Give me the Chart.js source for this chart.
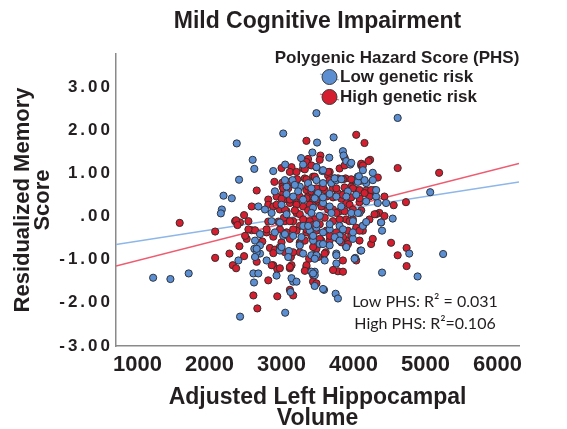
<!DOCTYPE html>
<html><head><meta charset="utf-8">
<script src="https://cdn.jsdelivr.net/npm/chart.js@4.4.0/dist/chart.umd.min.js"></script>
<style>html,body{margin:0;padding:0;background:#fff;}canvas{display:block;}</style>
</head><body>
<canvas id="c" width="567" height="429"></canvas>
<script>
const chartTitle = 'Mild Cognitive Impairment';
const legendTitle = 'Polygenic Hazard Score (PHS)';
const seriesNames = ['Low genetic risk', 'High genetic risk'];
const xAxisTitle = ['Adjusted Left Hippocampal', 'Volume'];
const yAxisTitle = ['Residualized Memory', 'Score'];
const xTickValues = [1000, 2000, 3000, 4000, 5000, 6000];
const xTickLabels = ['1000', '2000', '3000', '4000', '5000', '6000'];
const yTickValues = [-3, -2, -1, 0, 1, 2, 3];
const yTickLabels = ['-3.00', '-2.00', '-1.00', '.00', '1.00', '2.00', '3.00'];
const r2Labels = ['Low PHS: R\u00B2 = 0.031', 'High PHS: R\u00B2=0.106'];

// Low genetic risk (blue)
const lowX = [3485,4614,3024,2378,3494,3724,2599,2622,3272,3429,3664,3853,3862,3899,3955,2885,3051,2410,4268,3300,3567,
  3070,3153,3254,3369,3485,3577,3692,3761,4061,4061,4176,2908,3070,3231,3415,3508,3669,3761,3922,4038,4314,4453,4337,4176,4084,3969,3830,3669,3577,3438,3300,3162,3000,2862,2770,2678,
  2194,2309,2171,2157,5066,
  2632,2701,2862,2908,3024,3162,3277,3392,3669,3807,3992,4130,4176,3992,3807,3669,3531,3254,3102,2977,3300,3415,3485,3600,3761,4024,4098,4397,4397,4545,4775,5246,4891,1216,1456,1710,2401,2622,2701,2609,2618,2424,3051,2931,3125,3162,3461,3461,3591,3752,3784,2655,2793,
  3462,3577,3900,3416,3531,3693,4061,3670,3854,3485,3577,3992,4384,3439,3577,3739,3808,3900,4108,4015,3762,3416,3462,3577,3762,
  3070,2978,3301,3370,3485,2701,3047,3439,2655,3001,3093,2632,3462,2678,3139,3208,3439,
  3485,3185,3047,3969,4154,4075,4131,3577,3739,3831,4269,4315];
const lowY = [2.39,2.28,1.92,1.69,1.71,1.83,1.31,1.10,1.35,1.48,1.36,1.51,1.41,1.28,1.20,1.05,1.20,0.85,1.01,1.20,1.05,
  0.69,0.84,0.69,0.77,0.84,0.77,0.77,0.84,0.92,0.80,0.77,0.58,0.52,0.58,0.65,0.54,0.52,0.46,0.58,0.50,0.46,0.31,0.31,0.35,0.08,0.08,0.23,0.23,0.31,0.20,0.39,0.46,0.27,0.08,0.16,0.23,
  0.48,0.42,0.16,0.07,0.56,
  -0.56,-0.67,-0.11,-0.37,-0.45,-0.45,-0.48,-0.33,-0.30,-0.22,-0.11,-0.22,-0.13,-0.52,-0.45,-0.67,-0.64,-0.67,-0.80,-0.79,-0.86,-0.90,-0.90,-1.02,-0.86,-0.96,-0.79,-0.33,-1.30,-0.05,-0.86,-0.87,-1.39,-1.42,-1.45,-1.32,-1.02,-0.75,-0.86,-1.32,-1.53,-2.32,-2.23,-1.37,-1.75,-1.51,-1.28,-1.61,-1.70,-1.79,-1.90,-0.83,-1.02,
  0.42,0.44,0.46,0.08,0.01,0.08,0.08,-0.18,-0.30,-0.26,-0.37,-0.37,-0.14,-0.56,-0.64,-0.48,-0.56,-0.71,-0.79,-0.98,-0.90,-1.28,-1.36,-1.68,-1.09,
  0.05,-0.14,-0.22,-0.22,-0.18,-0.41,-0.41,-0.45,-0.75,-0.71,-0.94,-0.94,-0.98,-1.32,-1.43,-1.51,-1.32,
  1.14,0.73,0.84,1.24,0.84,0.93,1.07,1.07,0.88,0.86,0.84,0.61];

// High genetic risk (red)
const highX = [4038,4153,3346,3369,3346,3540,4231,4208,4614,5190,3000,3139,3300,3485,3669,3807,4107,
  3010,3014,3208,3323,3438,3646,3738,3890,3992,4107,2655,2816,2816,2931,3024,3024,3116,3208,3254,3346,3369,3438,3531,3600,3715,3784,3876,3969,4038,4176,4291,4245,4084,3899,3531,3415,3300,2977,3070,2885,2586,2480,3208,3254,3715,3807,3946,4559,4729,4360,4314,
  1585,2078,2355,2424,2586,2632,2516,2733,2793,3047,3162,3254,3346,3438,3531,3715,3899,3992,4222,4383,3070,3208,3346,3485,3623,3761,3922,4038,4130,3000,3116,3254,3323,3438,3554,3669,3784,3922,4084,4245,4268,4522,4738,4614,2078,2277,2323,2369,2415,2480,2839,2908,2977,3130,3254,3383,3485,3614,3853,3899,4738,2885,2941,2977,3116,3139,3346,3438,3784,2609,2664,2941,3162,
  3716,3831,3969,4085,4223,3430,3554,3647,3762,3877,3992,4108,3462,3600,3808,3946,4038,4131,4292,4430,3416,3531,3670,3854,3969,4085,3439,3600,3831,3923,4038,3716,3854,
  3001,3116,3208,3347,3393,3485,2932,3047,3185,3370,2369,2388,2540,2816,2955,3033,3116,3301,3393,3439,2793,2978,2540,2494,2886,3162,3347,3254,2886,3047,3162,3439,3508,2655,2863,2816,3116,3347,3324,3439,3485,3116,
  3116,3208,3324,3462,3218,3347,2901,3024,3093,3116,3370,3416,3485,
  3531,3877,3877,4108,4131,3416,3647,3785,3462,3854,3969,3670,4338,3577,3762,3877,3992,4085,4246,3485,3624,3854,4154,4430];
const highY = [1.89,1.70,1.75,1.33,1.26,1.41,1.31,1.28,1.12,1.01,1.12,1.14,1.11,1.14,1.03,1.11,1.18,
  0.78,0.69,0.84,0.88,0.92,0.95,0.88,0.88,0.84,0.83,0.60,0.39,0.27,0.46,0.54,0.39,0.31,0.31,0.46,0.61,0.46,0.54,0.65,0.61,0.65,0.54,0.46,0.69,0.61,0.60,0.61,0.50,0.33,0.31,0.31,0.31,0.23,0.16,0.12,0.23,0.23,0.03,0.08,0.05,0.16,0.12,0.27,0.26,0.33,0.08,0.05,
  -0.15,-0.35,-0.11,-0.14,-0.32,-0.32,-0.52,-0.58,-0.37,-0.11,-0.11,-0.22,-0.14,-0.11,-0.18,-0.11,-0.07,-0.07,-0.07,-0.14,-0.37,-0.33,-0.37,-0.33,-0.33,-0.37,-0.33,-0.30,-0.33,-0.60,-0.52,-0.60,-0.56,-0.52,-0.56,-0.56,-0.52,-0.56,-0.56,-0.64,-0.52,-0.61,-0.73,-0.90,-0.96,-0.86,-1.13,-1.20,-0.69,-0.92,-0.73,-0.77,-0.71,-0.94,-0.83,-0.98,-0.75,-0.83,-1.02,-0.71,-1.15,-1.13,-1.22,-1.20,-1.20,-1.13,-1.17,-1.51,-1.27,-1.83,-2.13,-1.85,-1.83,
  0.44,0.41,0.44,0.42,0.46,0.27,0.23,0.16,0.08,0.12,0.16,0.14,-0.07,-0.03,-0.07,-0.11,-0.26,-0.22,0.05,0.01,-0.45,-0.52,-0.45,-0.48,-0.45,-0.33,-0.90,-0.86,-0.60,-0.64,-1.02,-1.24,-1.28,
  0.41,0.39,0.27,0.42,0.27,0.39,0.27,0.16,0.14,0.14,-0.09,-0.20,-0.11,-0.12,-0.12,-0.03,-0.11,-0.07,-0.11,-0.20,-0.30,-0.30,-0.30,-0.45,-0.47,-0.30,-0.30,-0.64,-0.85,-0.83,-0.83,-0.71,-0.94,-1.05,-1.13,-1.48,-1.17,-1.13,-1.26,-1.36,-1.55,-1.70,
  1.03,1.03,1.09,0.90,0.86,0.86,0.80,0.65,0.65,0.80,0.69,0.58,0.65,
  1.31,1.36,1.18,1.22,1.18,1.18,1.03,0.88,0.92,0.86,0.86,0.84,0.90,0.67,0.65,0.67,0.65,0.61,0.61,0.50,0.46,0.50,0.54,0.46];

// Fit lines (low, high): y = intercept + slope * x
const fitIntercepts = [-0.83, -1.447];
const fitSlopes = [0.000258, 0.000424];

const X_MIN = 700, X_MAX = 6300, Y_MIN = -3, Y_MAX = 3.76;
const FONT = 'Liberation Sans';
const TXT = '#231f20';
const BLUE = '#5b8fd2', RED = '#d51f30';
const BLUE_LINE = '#8db7e8', RED_LINE = '#ee5c70';

const toPts = (xs, ys) => xs.map((x, i) => ({x: x, y: ys[i]}));
const fitLine = k => [X_MIN, X_MAX].map(x => ({x: x, y: fitIntercepts[k] + fitSlopes[k] * x}));

const ySpacing = {
  id: 'ySpacing',
  beforeDraw(chart) {
    const s = chart.scales.y;
    if (!s._wrappedLS) {
      const orig = s.drawLabels.bind(s);
      s.drawLabels = function (ca) {
        const ctx = chart.ctx; ctx.save(); ctx.letterSpacing = '3px'; orig(ca); ctx.restore();
      };
      s._wrappedLS = true;
    }
  }
};

const legendPlugin = {
  id: 'phsLegend',
  afterDraw(chart) {
    const ctx = chart.ctx;
    ctx.save();
    ctx.fillStyle = TXT;
    ctx.font = 'bold 17px "' + FONT + '"';
    ctx.textAlign = 'center';
    ctx.textBaseline = 'middle';
    ctx.fillText(legendTitle, 397, 58);
    const items = [
      {name: seriesNames[0], ds: chart.data.datasets[0], line: chart.data.datasets[2], y: 77},
      {name: seriesNames[1], ds: chart.data.datasets[1], line: chart.data.datasets[3], y: 97}
    ];
    items.forEach(it => {
      ctx.strokeStyle = it.line.borderColor; ctx.lineWidth = 1.2;
      ctx.beginPath(); ctx.moveTo(320, it.y - 3); ctx.lineTo(339, it.y + 3); ctx.stroke();
      ctx.beginPath(); ctx.arc(329.5, it.y, 7.5, 0, Math.PI * 2);
      ctx.fillStyle = it.ds.backgroundColor; ctx.fill();
      ctx.strokeStyle = '#3a3a3a'; ctx.lineWidth = 1; ctx.stroke();
      ctx.fillStyle = TXT; ctx.textAlign = 'left';
      ctx.font = 'bold 17px "' + FONT + '"';
      ctx.fillText(it.name, 340, it.y);
    });
    ctx.font = '16px Lato';
    ctx.textAlign = 'center';
    ctx.fillStyle = TXT;
    ctx.fillText(r2Labels[0], 425, 302);
    ctx.fillText(r2Labels[1], 425, 324);
    ctx.restore();
  }
};

new Chart(document.getElementById('c'), {
  type: 'scatter',
  data: {
    datasets: [
      {label: seriesNames[0], data: toPts(lowX, lowY), backgroundColor: BLUE, borderColor: '#2e3440', borderWidth: 1, pointRadius: 3.6},
      {label: seriesNames[1], data: toPts(highX, highY), backgroundColor: RED, borderColor: '#3a2b2b', borderWidth: 1, pointRadius: 3.6},
      {label: 'fitLow', data: fitLine(0), showLine: true, borderColor: BLUE_LINE, borderWidth: 1.5, pointRadius: 0, fill: false},
      {label: 'fitHigh', data: fitLine(1), showLine: true, borderColor: RED_LINE, borderWidth: 1.5, pointRadius: 0, fill: false}
    ]
  },
  options: {
    responsive: false,
    animation: false,
    devicePixelRatio: 1,
    layout: {padding: {left: 0, right: 48, top: 0, bottom: 0}},
    plugins: {
      legend: {display: false},
      tooltip: {enabled: false},
      title: {display: true, text: chartTitle, fullSize: false, color: TXT,
        font: {family: FONT, size: 23, weight: 'bold', lineHeight: 1.2},
        padding: {top: 8, bottom: 18.4}}
    },
    scales: {
      x: {
        type: 'linear', min: X_MIN, max: X_MAX,
        afterBuildTicks: s => { s.ticks = xTickValues.map(v => ({value: v})); },
        afterFit: s => { s.height = 83; },
        ticks: {color: TXT, font: {family: FONT, size: 22, weight: 'bold'}, padding: 6, maxRotation: 0, autoSkip: false,
          callback: v => xTickLabels[xTickValues.indexOf(v)]},
        grid: {display: false, drawTicks: false},
        border: {display: true, color: '#8a8a8a', width: 1.5},
        title: {display: true, text: xAxisTitle, color: TXT,
          font: {family: FONT, size: 23, weight: 'bold', lineHeight: 0.913}, padding: {top: 0, bottom: 0}}
      },
      y: {
        type: 'linear', min: Y_MIN, max: Y_MAX,
        afterBuildTicks: s => { s.ticks = yTickValues.map(v => ({value: v})); },
        afterFit: s => { s.width = 116; },
        ticks: {color: TXT, font: {family: FONT, size: 17, weight: 'bold'}, padding: 3,
          callback: v => yTickLabels[yTickValues.indexOf(v)]},
        grid: {display: false, drawTicks: false},
        border: {display: true, color: '#8a8a8a', width: 1.5},
        title: {display: true, text: yAxisTitle, color: TXT,
          font: {family: FONT, size: 22, weight: 'bold', lineHeight: 0.91}, padding: {top: 13, bottom: 0}}
      }
    }
  },
  plugins: [ySpacing, legendPlugin]
});
</script>
</body></html>
